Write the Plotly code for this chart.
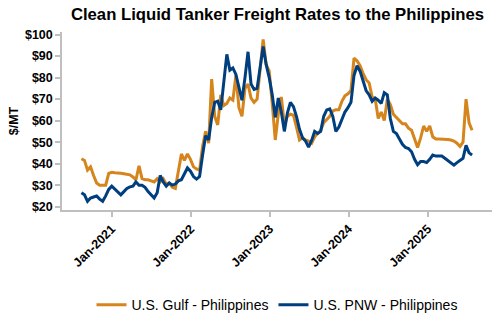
import pandas as pd
import plotly.graph_objects as go

start_date = "2020-08-14"
step = "14D"

gulf = [42.3, 41.5, 37, 38.5, 34.5, 31, 30, 30, 30, 35.5,
        36, 35.8, 35.5, 35.5, 35.3, 35.2, 34.8, 33.8, 32.5, 39,
        33, 32.5, 32.5, 32, 31.5, 33, 31.5, 33, 30.5, 31,
        29, 28.5, 37, 44.5, 41.5, 44.5, 42, 38.5, 37.5, 37,
        48, 55, 49.5, 79.3, 62, 58, 72, 67, 68, 70.5,
        69.5, 81, 66, 62, 75, 77, 70.5, 68.5, 70, 84,
        97.8, 86, 83, 68, 51, 63, 71, 58, 62, 63,
        62.5, 57, 51, 52, 51, 50.5, 49.5, 52.5, 54, 55.5,
        59, 60.5, 62, 64.5, 65, 65, 69, 71.5, 72.5, 74,
        89, 87.8, 85.5, 82, 79, 77.5, 71, 70, 61, 64,
        60, 70, 67.5, 63, 61.5, 60, 58.5, 58.5, 56.5, 55.5,
        51, 47.5, 52, 57.5, 55, 57.5, 52.5, 51.5, 51.5, 51.5,
        51.5, 51.2, 51, 50.5, 49.5, 48, 50, 70, 59, 55.5]

pnw = [26.5, 25.5, 22.5, 24, 24.5, 25, 23.5, 22.5, 25, 28,
       29.5, 28, 26.5, 25.5, 27, 28.5, 29.2, 29.5, 31.5, 30,
       30, 29, 27, 25.5, 24, 26.5, 34.5, 31.5, 29.5, 31,
       30, 30.5, 32, 32.5, 35, 38, 36.5, 34, 32.8, 34,
       44, 53, 51, 61.5, 68.5, 69, 65, 77, 90.8, 83.5,
       84.5, 81.5, 76, 69.5, 80, 92, 77, 74.5, 75, 86,
       94.5, 86, 80, 72, 61.5, 70.5, 64, 55, 63.5, 68.5,
       66.5, 62, 56, 52, 50.5, 47.7, 50.8, 55, 54, 55,
       62, 65, 65.5, 62, 55, 57, 61, 64, 66, 68.5,
       81, 85.5, 83, 79, 74, 72, 69, 70.5, 69.5, 68,
       73, 72, 61, 55, 54, 51.5, 49, 47.5, 47, 45.5,
       42, 39.5, 41, 41, 40.5, 42, 44, 43.5, 43.5, 43.5,
       42.5, 41.5, 40.5, 39.3, 40.5, 41.5, 42.5, 48.5, 45, 44]

series_names = ["U.S. Gulf - Philippines", "U.S. PNW - Philippines"]
tick_dates = ["2021-01-01", "2022-01-01", "2023-01-01", "2024-01-01", "2025-01-01"]
tick_labels = ["Jan-2021", "Jan-2022", "Jan-2023", "Jan-2024", "Jan-2025"]
y_ticks = [20, 30, 40, 50, 60, 70, 80, 90, 100]
y_tick_labels = ["$20", "$30", "$40", "$50", "$60", "$70", "$80", "$90", "$100"]

dates = pd.date_range(start_date, periods=len(gulf), freq=step)

fig = go.Figure()
fig.add_trace(go.Scatter(x=dates, y=gulf, mode="lines", name=series_names[0],
                         line=dict(color="#D5851C", width=3)))
fig.add_trace(go.Scatter(x=dates, y=pnw, mode="lines", name=series_names[1],
                         line=dict(color="#003F7F", width=3)))

fig.update_layout(
    width=500, height=330,
    margin=dict(l=62, r=8, t=32, b=120),
    paper_bgcolor="white", plot_bgcolor="white",
    font=dict(family="Liberation Sans, Arial, sans-serif", color="#000000"),
    title=dict(text="<b>Clean Liquid Tanker Freight Rates to the Philippines</b>",
               x=0.555, xanchor="center", y=0.958, yanchor="middle",
               font=dict(size=16.7, color="#000000")),
    showlegend=True,
    legend=dict(orientation="h", x=0.5, xanchor="center", y=-0.535, yanchor="middle",
                font=dict(size=14, color="#000000"), bgcolor="rgba(0,0,0,0)"),
)
fig.update_xaxes(
    type="date", range=["2020-05-16", "2025-10-25"],
    tickvals=tick_dates, ticktext=tick_labels, tickangle=-45,
    tickfont=dict(size=12.5, weight="bold"),
    showgrid=False, zeroline=False,
    showline=True, linecolor="#BFBFBF", linewidth=1.5,
    ticks="outside", ticklen=5, tickcolor="#BFBFBF", tickwidth=1.5,
)
fig.update_yaxes(
    range=[18.45, 101.2], tickvals=y_ticks, ticktext=y_tick_labels,
    tickfont=dict(size=12.5, weight="bold"),
    title=dict(text="<b>$/MT</b>", font=dict(size=12.5), standoff=4),
    showgrid=False, zeroline=False,
    showline=True, linecolor="#BFBFBF", linewidth=1.5,
    ticks="outside", ticklen=5, tickcolor="#BFBFBF", tickwidth=1.5,
)

fig.write_html("out.html")
